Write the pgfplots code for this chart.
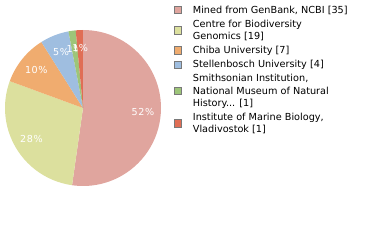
\documentclass[border=0pt]{standalone}
\usepackage{fontspec}
\setmainfont{DejaVu Sans}
\usepackage{pgfplots}
\usepackage{pgfplotstable}
\pgfplotsset{compat=1.18}
\definecolor{cA}{HTML}{E0A59E}
\definecolor{cB}{HTML}{DCE09E}
\definecolor{cC}{HTML}{F0AC6F}
\definecolor{cD}{HTML}{9FBEE0}
\definecolor{cE}{HTML}{9DC579}
\definecolor{cF}{HTML}{E06E55}
\pgfplotstableread{
value
35
19
7
4
1
1
}\piedata
\begin{document}
\begin{tikzpicture}
\useasboundingbox (0,0) rectangle (380bp,240bp);
\begin{axis}[
  scale only axis, width=156bp, height=156bp,
  xmin=-1, xmax=1, ymin=-1, ymax=1,
  hide axis,
  at={(83bp,132bp)}, anchor=center,
  legend cell align=left,
  legend style={at={(axis description cs:1.0833,1.155)}, anchor=north west,
    draw=none, fill=none, inner sep=0pt, outer sep=0pt,
    row sep=5.3bp,
    nodes={inner xsep=0pt, inner ysep=0pt, align=left, font=\fontsize{9.7bp}{12.1bp}\selectfont},
    /tikz/every odd column/.append style={column sep=10.5bp}},
  legend image code/.code={\draw[#1, draw=gray!95!black, line width=1bp] (0bp,-3.7bp) rectangle (7.4bp,3.7bp);},
]
\addlegendimage{fill=cA}\addlegendentry{Mined from GenBank, NCBI [35]}
\addlegendimage{fill=cB}\addlegendentry{Centre for Biodiversity\\Genomics [19]}
\addlegendimage{fill=cC}\addlegendentry{Chiba University [7]}
\addlegendimage{fill=cD}\addlegendentry{Stellenbosch University [4]}
\addlegendimage{fill=cE}\addlegendentry{Smithsonian Institution,\\National Museum of Natural\\History... [1]}
\addlegendimage{fill=cF}\addlegendentry{Institute of Marine Biology,\\Vladivostok [1]}
\pgfplotsextra{
  \gdef\cumang{90}
  \foreach \i/\col/\lab in {0/cA/52\%,1/cB/28\%,2/cC/10\%,3/cD/5\%,4/cE/1\%,5/cF/1\%}{
    \pgfplotstablegetelem{\i}{value}\of\piedata
    \pgfmathsetmacro\sweep{\pgfplotsretval/67*360}
    \pgfmathsetmacro\endang{\cumang-\sweep}
    \pgfmathsetmacro\midang{\cumang-\sweep/2}
    \fill[\col] (axis cs:0,0) -- (axis cs:{cos(\cumang)},{sin(\cumang)}) arc[start angle=\cumang, end angle=\endang, radius=78bp] -- cycle;
    \node[text=white, font=\fontsize{9.6bp}{10bp}\selectfont\addfontfeatures{LetterSpace=6}, inner sep=0pt] at (axis cs:{0.77*cos(\midang)},{0.77*sin(\midang)}) {\lab};
    \xdef\cumang{\endang}
  }
}
\end{axis}
\end{tikzpicture}
\end{document}
